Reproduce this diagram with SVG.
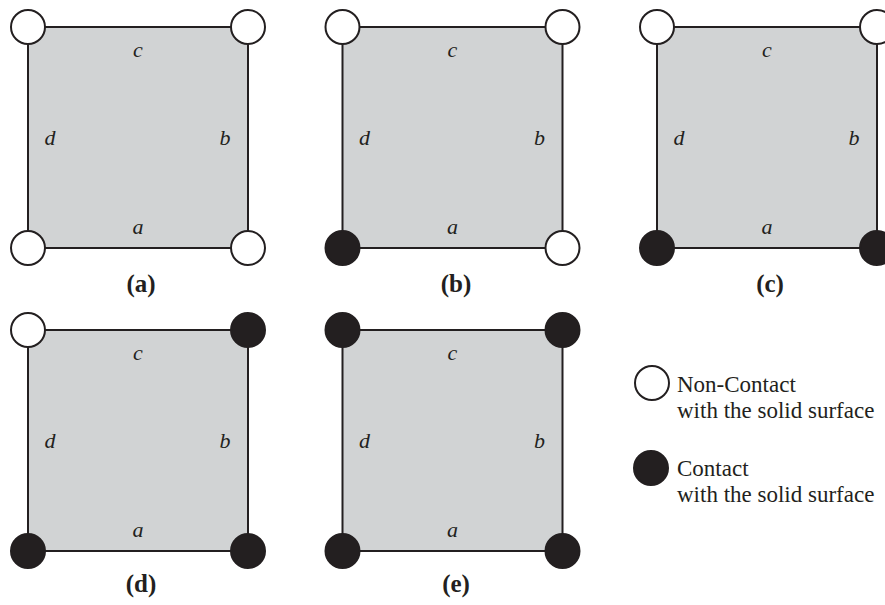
<svg xmlns="http://www.w3.org/2000/svg" width="885" height="605" viewBox="0 0 885 605">
<style>
.sq{fill:#d1d3d4;stroke:#231f20;stroke-width:2}
.o{fill:#ffffff;stroke:#231f20;stroke-width:2}
.f{fill:#231f20;stroke:#231f20;stroke-width:2}
.l{font-family:"Liberation Serif",serif;font-style:italic;font-size:22px;fill:#231f20;text-anchor:middle}
.cap{font-family:"Liberation Serif",serif;font-weight:bold;font-size:25px;fill:#231f20;text-anchor:middle}
.lg{font-family:"Liberation Serif",serif;font-size:23px;fill:#231f20}
</style>
<defs>
<g id="labels">
<text class="l" x="110" y="57">c</text>
<text class="l" x="22" y="145">d</text>
<text class="l" x="197" y="145">b</text>
<text class="l" x="110" y="234">a</text>
</g>
</defs>
<g id="panel-a">
<rect class="sq" x="28" y="27" width="220" height="221"/>
<use href="#labels" x="28" y="0"/>
<circle class="o" cx="28" cy="27" r="17"/>
<circle class="o" cx="248" cy="27" r="17"/>
<circle class="o" cx="28" cy="248" r="17"/>
<circle class="o" cx="248" cy="248" r="17"/>
<text class="cap" x="141" y="292">(a)</text>
</g>
<g id="panel-b">
<rect class="sq" x="342.5" y="27" width="220" height="221"/>
<use href="#labels" x="342.5" y="0"/>
<circle class="o" cx="342.5" cy="27" r="17"/>
<circle class="o" cx="562.5" cy="27" r="17"/>
<circle class="f" cx="342.5" cy="248" r="17"/>
<circle class="o" cx="562.5" cy="248" r="17"/>
<text class="cap" x="456" y="292">(b)</text>
</g>
<g id="panel-c">
<rect class="sq" x="657" y="27" width="220" height="221"/>
<use href="#labels" x="657" y="0"/>
<circle class="o" cx="657" cy="27" r="17"/>
<circle class="o" cx="877" cy="27" r="17"/>
<circle class="f" cx="657" cy="248" r="17"/>
<circle class="f" cx="877" cy="248" r="17"/>
<text class="cap" x="770" y="292">(c)</text>
</g>
<g id="panel-d">
<rect class="sq" x="28" y="330" width="220" height="221"/>
<use href="#labels" x="28" y="303"/>
<circle class="o" cx="28" cy="330" r="17"/>
<circle class="f" cx="248" cy="330" r="17"/>
<circle class="f" cx="28" cy="551" r="17"/>
<circle class="f" cx="248" cy="551" r="17"/>
<text class="cap" x="141" y="592">(d)</text>
</g>
<g id="panel-e">
<rect class="sq" x="342.5" y="330" width="220" height="221"/>
<use href="#labels" x="342.5" y="303"/>
<circle class="f" cx="342.5" cy="330" r="17"/>
<circle class="f" cx="562.5" cy="330" r="17"/>
<circle class="f" cx="342.5" cy="551" r="17"/>
<circle class="f" cx="562.5" cy="551" r="17"/>
<text class="cap" x="456" y="592">(e)</text>
</g>
<g id="legend-noncontact">
<circle class="o" cx="652" cy="383" r="17"/>
<text class="lg" x="677" y="392">Non-Contact</text>
<text class="lg" x="677" y="418">with the solid surface</text>
</g>
<g id="legend-contact">
<circle class="f" cx="651" cy="468" r="17"/>
<text class="lg" x="677" y="476">Contact</text>
<text class="lg" x="677" y="502">with the solid surface</text>
</g>
<g id="connectors"></g>
</svg>
